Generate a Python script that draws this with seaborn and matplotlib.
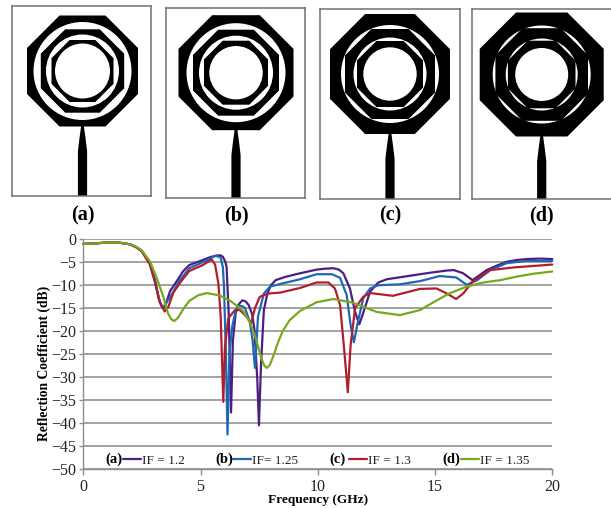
import numpy as np
import pandas as pd
import matplotlib
matplotlib.use("Agg")
import matplotlib.pyplot as plt
from matplotlib.patches import Polygon, Circle
import seaborn as sns

W, H = 611, 508

freq_a = [0,0.5,1,1.5,2,2.25,2.49,2.84,3.06,3.22,3.35,3.47,3.7,4,4.25,4.52,5,5.4,5.7,5.85,5.95,6.05,6.11,6.2,6.3,6.38,6.5,6.62,6.78,6.92,7.05,7.2,7.3,7.42,7.49,7.58,7.7,7.85,8.0,8.2,8.6,9.24,9.95,10.3,10.67,10.9,11.09,11.37,11.59,11.77,11.94,12.23,12.58,12.94,14.36,14.9,15.5,15.8,16.2,16.6,16.9,17.2,17.6,18.05,18.5,18.9,19.5,20]
s11_a = [-1,-0.9,-0.7,-0.7,-1.1,-1.7,-2.55,-5.2,-9,-13,-14.6,-14.8,-11.3,-9,-7,-5.6,-4.7,-3.9,-3.5,-3.5,-3.8,-4.8,-6,-16,-37.7,-22,-16,-14.2,-13.3,-13.5,-14.3,-16.3,-19.7,-30.6,-40.5,-27,-15.4,-11.8,-10,-8.9,-8.2,-7.4,-6.6,-6.4,-6.3,-6.6,-7.4,-10.7,-15.8,-18.5,-16,-11.4,-9.4,-8.7,-7.6,-7.2,-6.8,-6.7,-7.4,-8.9,-7.8,-6.7,-5.8,-4.9,-4.5,-4.3,-4.2,-4.3]

freq_b = [0,0.5,1,1.5,2,2.25,2.49,2.84,3.06,3.25,3.38,3.52,3.8,4.1,4.52,5,5.4,5.65,5.85,5.95,6.0,6.08,6.15,6.23,6.35,6.5,6.65,6.8,6.9,7.1,7.22,7.32,7.45,7.7,7.96,8.5,9.24,9.95,10.6,10.95,11.23,11.4,11.54,11.68,11.94,12.23,12.58,13.5,14.36,15.2,15.9,16.35,16.8,17.35,18.05,18.9,20]
s11_b = [-1,-0.9,-0.7,-0.7,-1.1,-1.7,-2.55,-5.3,-9.2,-13.4,-15,-14,-11.8,-9,-6.3,-5.2,-4.2,-3.6,-3.9,-6,-10.3,-25,-42.5,-25,-19,-15.5,-14.4,-14.6,-15,-18,-22,-28,-16.8,-11.8,-10.3,-9.6,-8.7,-7.6,-7.6,-8.4,-12.1,-18.7,-22.4,-18.7,-12.8,-10.7,-10,-9.8,-9.1,-8,-8.3,-9.9,-8.9,-6.7,-5.2,-4.7,-4.7]

freq_c = [0,0.5,1,1.5,2,2.25,2.49,2.84,3.06,3.27,3.47,3.62,3.84,4.15,4.52,5.1,5.47,5.62,5.76,5.86,5.97,6.04,6.18,6.47,6.68,6.97,7.15,7.32,7.53,7.89,8.4,9.24,9.95,10.45,10.73,10.95,11.12,11.28,11.4,11.59,11.94,12.23,13.2,14.36,15.06,15.5,15.9,16.2,16.6,17.35,18.4,20]
s11_c = [-1,-0.9,-0.7,-0.7,-1.1,-1.7,-2.55,-5.5,-9.4,-13.8,-15.7,-14.8,-11.6,-9.3,-6.9,-5.6,-4.4,-5.5,-9.6,-16.9,-35.4,-23.4,-17.2,-15.4,-15.4,-16.9,-18.3,-15,-12.5,-11.8,-11.6,-10.6,-9.4,-9.4,-10.7,-14.3,-23.7,-33.3,-23,-15,-12.5,-11.7,-12.3,-10.8,-10.7,-11.8,-13,-11.8,-9.2,-6.7,-6.1,-5.5]

freq_d = [0,0.5,1,1.5,2,2.25,2.49,2.84,3.1,3.4,3.6,3.75,3.88,4.05,4.25,4.52,4.9,5.26,5.8,6.3,6.8,7.1,7.35,7.6,7.72,7.82,7.95,8.1,8.3,8.5,8.8,9.24,9.95,10.67,11.5,12.5,13.5,14.36,14.9,15.6,16.35,17.06,17.77,18.5,19.2,20]
s11_d = [-1,-0.9,-0.7,-0.7,-1.1,-1.6,-2.4,-4.8,-8,-12.3,-16,-17.4,-17.8,-17,-15.3,-13.4,-12.2,-11.7,-12.2,-13.5,-15.5,-18,-21.5,-26,-27.5,-28,-27.4,-25.5,-22.5,-20,-17.6,-15.6,-13.7,-13,-13.8,-15.8,-16.5,-15.4,-13.8,-11.8,-10.3,-9.4,-8.9,-8.1,-7.5,-7]

series_labels = ["IF = 1.2", "IF= 1.25", "IF = 1.3", "IF = 1.35"]
series_tags = ["(a)", "(b)", "(c)", "(d)"]
series_colors = ["#4B1F82", "#1F66B4", "#B01E2E", "#78A81E"]
y_ticks = list(range(-50, 1, 5))
x_ticks = [0, 5, 10, 15, 20]

# Antenna panels: radii of outer oct, white circle, oct, white circle, oct, hole
panel_tags = ["(a)", "(b)", "(c)", "(d)"]
panel_radii = [
    [55.5, 49.0, 41.7, 36.5, 31.0, 27.5],
    [57.5, 49.5, 43.0, 37.0, 32.0, 26.7],
    [60.0, 49.0, 45.0, 36.5, 33.0, 26.7],
    [62.0, 49.0, 46.3, 36.0, 33.8, 26.5],
]
panel_frames = [(12, 6, 151, 196), (166, 8, 305, 198), (320, 9, 460, 199), (472, 9, 612, 199)]
panel_centres = [(82.5, 71), (236, 72.7), (390, 74), (541.7, 74.5)]

sns.set_theme(style="white", rc={"axes.facecolor": "white", "figure.facecolor": "white"})
plt.rcParams["font.family"] = ["Liberation Serif", "DejaVu Serif"]

fig = plt.figure(figsize=(W / 100, H / 100), dpi=100)


def px_axes(x0, y0, x1, y1):
    return fig.add_axes([x0 / W, 1 - y1 / H, (x1 - x0) / W, (y1 - y0) / H])


def octagon(cx, cy, r):
    c = r / np.cos(np.pi / 8)
    a = np.pi / 8 + np.arange(8) * np.pi / 4
    return np.column_stack([cx + c * np.cos(a), cy + c * np.sin(a)])


for frame, centre, radii, tag in zip(panel_frames, panel_centres, panel_radii, panel_tags):
    x0, y0, x1, y1 = frame
    pa = px_axes(x0, y0, x1, y1)
    pa.set_xlim(x0, x1)
    pa.set_ylim(y1, y0)
    pa.set_xticks([])
    pa.set_yticks([])
    for sp in pa.spines.values():
        sp.set_color("#6f6f78")
        sp.set_linewidth(1.1)
    if x1 > W:
        pa.spines["right"].set_visible(False)
    cx, cy = centre
    for i, r in enumerate(radii):
        if i % 2 == 0:
            pa.add_patch(Polygon(octagon(cx, cy, r), closed=True, fc="black", ec="none", zorder=2 + i))
        else:
            pa.add_patch(Circle((cx, cy), r, fc="white", ec="none", zorder=2 + i))
    top = cy + radii[0] - 1
    pa.add_patch(Polygon([(cx - 1.3, top), (cx + 1.3, top), (cx + 3.2, top + 14), (cx + 4.6, top + 26),
                          (cx + 4.6, y1), (cx - 4.6, y1), (cx - 4.6, top + 26), (cx - 3.2, top + 14)],
                         closed=True, fc="black", ec="none", zorder=2))
    fig.text(cx / W, 1 - 215 / H, tag, ha="center", va="center", fontsize=14.5, fontweight="bold", color="black")

ax = px_axes(83.3, 239.3, 552.3, 469)
ax.set_xlim(0, 20)
ax.set_ylim(-50, 0)
ax.yaxis.grid(True, color="#a2a2a2", lw=1.4)
ax.xaxis.grid(False)
ax.set_axisbelow(True)

frames = [
    pd.DataFrame({"freq": f, "s11": s, "series": lab})
    for f, s, lab in zip([freq_a, freq_b, freq_c, freq_d], [s11_a, s11_b, s11_c, s11_d], series_labels)
]
data = pd.concat(frames, ignore_index=True)
sns.lineplot(data=data, x="freq", y="s11", hue="series", hue_order=series_labels,
             palette=series_colors, estimator=None, sort=False, lw=1.6, ax=ax, legend=False,
             clip_on=False)
lines = list(ax.get_lines())
for ln in lines:
    ln.set_solid_joinstyle("round")

ax.set_xlabel("")
ax.set_ylabel("")
ax.set_xticks(x_ticks)
ax.set_yticks(y_ticks)
ax.tick_params(axis="x", direction="out", length=4, width=1, color="#8e8e8e", pad=3.5, labelsize=11.5, labelcolor="#222222", bottom=True)
ax.tick_params(axis="y", direction="out", length=3, width=1, color="#8e8e8e", pad=2, labelsize=11.5, labelcolor="#222222", left=True)
for side in ["top", "right"]:
    ax.spines[side].set_visible(False)
for side in ["left", "bottom"]:
    ax.spines[side].set_color("#8e8e8e")
    ax.spines[side].set_linewidth(1.0)

fig.text(318 / W, 1 - 500 / H, "Frequency (GHz)", ha="center", va="center", fontsize=9.6, fontweight="bold", color="black")
fig.text(44 / W, 1 - 363 / H, "Reflection Coefficient (dB)", rotation=90, ha="center", va="center", fontsize=9.8, fontweight="bold", color="black")

legend_line_px = [123, 233, 349, 461]
tag_px = [114, 224, 337, 451]
for line, lab, lx, tx, tag in zip(lines, series_labels, legend_line_px, tag_px, series_tags):
    leg = ax.legend([line], [lab], loc="center left", frameon=False, fontsize=9.6,
                    bbox_to_anchor=(lx / W, 1 - 460.5 / H), bbox_transform=fig.transFigure,
                    handlelength=1.35, handletextpad=0.1, borderpad=0, borderaxespad=0,
                    labelcolor="#222222")
    ax.add_artist(leg)
    ax.legend_ = None
    fig.text(tx / W, 1 - 459.5 / H, tag, ha="center", va="center", fontsize=10.5, fontweight="bold", color="black", zorder=5)

fig.savefig("out.png", dpi=100)
